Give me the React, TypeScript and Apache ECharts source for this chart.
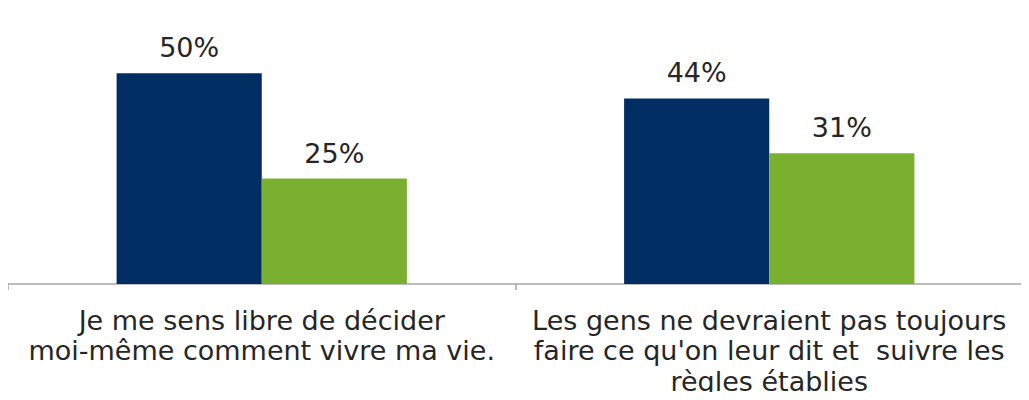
import React, { useEffect, useRef } from "react";
import * as echarts from "echarts";

const categories = [
  "Je me sens libre de décider\nmoi-même comment vivre ma vie.",
  "Les gens ne devraient pas toujours\nfaire ce qu'on leur dit et  suivre les\nrègles établies",
];
const seriesA = [50, 44];
const seriesB = [25, 31];
const seriesNames = ["Série 1", "Série 2"];

export default function App() {
  const ref = useRef<HTMLDivElement>(null);
  useEffect(() => {
    if (!ref.current) return;
    const chart = echarts.init(ref.current, null, { renderer: "svg" });
    const label = {
      show: true,
      position: "top",
      distance: 12,
      formatter: "{c}%",
      color: "#262626",
      fontSize: 27,
      fontFamily: "DejaVu Sans",
    };
    chart.setOption({
      animation: false,
      grid: { left: 8, right: 6, top: 31, bottom: 116, containLabel: false },
      xAxis: {
        type: "category",
        data: categories,
        axisLine: { show: true, lineStyle: { color: "#a6a6a6", width: 1.5 } },
        axisTick: { show: true, length: 6, lineStyle: { color: "#a6a6a6", width: 1.5 } },
        axisLabel: {
          color: "#262626",
          fontSize: 27,
          fontFamily: "DejaVu Sans",
          lineHeight: 30.5,
          margin: 21,
          interval: 0,
        },
      },
      yAxis: {
        type: "value",
        min: 0,
        max: 60,
        show: false,
        splitLine: { show: false },
      },
      series: [
        {
          name: seriesNames[0],
          type: "bar",
          data: seriesA,
          barGap: "0%",
          barCategoryGap: "42.8%",
          itemStyle: { color: "#002E63" },
          label,
        },
        {
          name: seriesNames[1],
          type: "bar",
          data: seriesB,
          itemStyle: { color: "#7AB030" },
          label,
        },
      ],
    });
    return () => chart.dispose();
  }, []);
  return <div ref={ref} style={{ width: 1029, height: 400, margin: -8 }} />;
}
